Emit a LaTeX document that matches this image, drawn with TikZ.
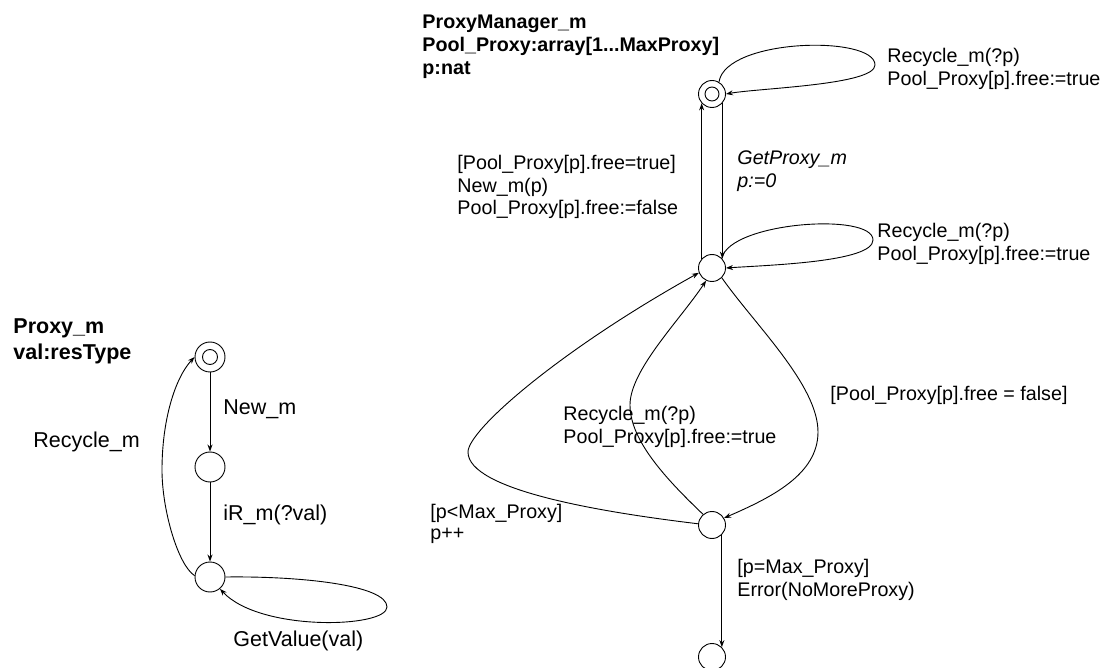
\documentclass[tikz,border=0pt]{standalone}
\usepackage{fontspec}
\setmainfont{Liberation Sans}
\usetikzlibrary{arrows.meta}
\begin{document}
\begin{tikzpicture}[x=1pt,y=-1pt,line width=0.9pt,
  st/.style={circle,draw,minimum size=27pt,inner sep=0pt},
  lst/.style={circle,draw,minimum size=30pt,inner sep=0pt},
  ini/.style={path picture={\draw[line width=0.9pt] (path picture bounding box.center) circle[radius=#1];}},
  arr/.style={-{Stealth[length=7pt,width=5pt]}},
  lbl/.style={anchor=base west,inner sep=0pt,align=left,font=\fontsize{19.7}{22.5}\selectfont},
  lblL/.style={anchor=base west,inner sep=0pt,align=left,font=\fontsize{21.5}{26}\selectfont},
  ttlR/.style={lbl,font=\fontsize{19.7}{23.3}\selectfont\bfseries},
  ttlL/.style={lblL,font=\fontsize{21.5}{26}\selectfont\bfseries}]
\useasboundingbox (0,0) rectangle (1104,668);
% states of ProxyManager_m
\node[st,ini=7pt] (s0) at (712,94) {};
\node[st] (s1) at (712,268) {};
\node[st] (s2) at (712,525) {};
\node[st] (s3) at (712,657) {};
% states of Proxy_m
\node[lst,ini=7.5pt] (t0) at (210,357) {};
\node[lst] (t1) at (210,467) {};
\node[lst] (t2) at (210,577) {};
% connectors ProxyManager_m
\draw[arr] (s1.138) -- (s0.222);
\draw[arr] (s0.-42) -- (s1.42);
\draw[arr] (s0.60) .. controls (726,38) and (875,35) .. (875,65) .. controls (875,85) and (760,88) .. (s0.east);
\draw[arr] (s1.45) .. controls (730,222) and (873,212) .. (873,240) .. controls (873,262) and (770,265) .. (s1.east);
\draw[arr] (s1.-45) .. controls (755,325) and (818,385) .. (818,432) .. controls (818,475) and (770,498) .. (s2.30);
\draw[arr] (s2.175) .. controls (600,512) and (468,490) .. (468,452) .. controls (468,430) and (560,350) .. (s1.200);
\draw[arr] (s2.130) .. controls (665,478) and (630,440) .. (630,405) .. controls (630,370) and (680,320) .. (s1.245);
\draw[arr] (s2.-45) -- (s3.45);
% connectors Proxy_m
\draw[arr] (t0) -- (t1);
\draw[arr] (t1) -- (t2);
\draw[arr] (t2.175) .. controls (178,565) and (162,510) .. (162,470) .. controls (162,420) and (175,378) .. (t0.west);
\draw[arr] (t2.east) .. controls (300,576) and (387,585) .. (387,607) .. controls (387,628) and (260,632) .. (t2.-50);
% labels ProxyManager_m (anchored at the baseline of the last line)
\node[ttlR] (ttlpm) at (422,75) {ProxyManager\_m\\Pool\_Proxy:array[1...MaxProxy]\\p:nat};
\node[lbl] (lrec0) at (887,85.5) {Recycle\_m(?p)\\Pool\_Proxy[p].free:=true};
\node[lbl] (lrec1) at (877,260.5) {Recycle\_m(?p)\\Pool\_Proxy[p].free:=true};
\node[lbl] (lnew) at (457,215) {[Pool\_Proxy[p].free=true]\\New\_m(p)\\Pool\_Proxy[p].free:=false};
\node[lbl,font=\fontsize{19.7}{23}\selectfont\itshape] (lget) at (737,188) {GetProxy\_m\\p:=0};
\node[lbl] (lfalse) at (830,400.7) {[Pool\_Proxy[p].free = false]};
\node[lbl,font=\fontsize{19.7}{23}\selectfont] (lrec2) at (563,443) {Recycle\_m(?p)\\Pool\_Proxy[p].free:=true};
\node[lbl,font=\fontsize{19.7}{21}\selectfont] (lless) at (430,539) {[p<Max\_Proxy]\\p++};
\node[lbl,font=\fontsize{19.7}{23}\selectfont] (lerr) at (737,596) {[p=Max\_Proxy]\\Error(NoMoreProxy)};
% labels Proxy_m
\node[ttlL] (ttlp) at (13,360) {Proxy\_m\\val:resType};
\node[lblL] (lnewm) at (223,415) {New\_m};
\node[lblL] (lir) at (223,520) {iR\_m(?val)};
\node[lblL] (lrecm) at (33,447) {Recycle\_m};
\node[lblL] (lgv) at (233,646) {GetValue(val)};
\end{tikzpicture}
\end{document}
